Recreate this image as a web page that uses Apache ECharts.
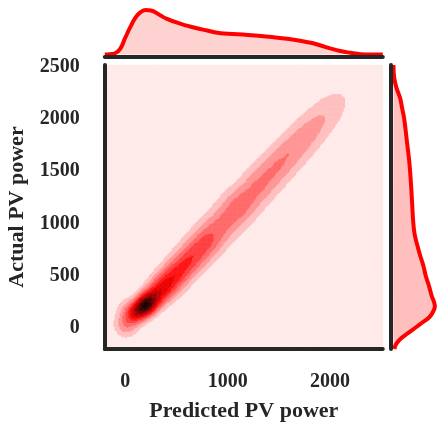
<!DOCTYPE html>
<html>
<head>
<meta charset="utf-8">
<script src="https://cdn.jsdelivr.net/npm/echarts@6/dist/echarts.min.js"></script>
<style>
html, body { margin: 0; padding: 0; background: #fff; }
#main { width: 438px; height: 427px; }
</style>
</head>
<body>
<div id="main"></div>
<script>
// tick labels
var xTicks = [0, 1000, 2000];
var yTicks = [0, 500, 1000, 1500, 2000, 2500];

// marginal KDE of predicted power (top), relative to its peak
var topPred = [-200, -150, -100, -50, 0, 50, 100, 150, 200, 250, 300, 350, 400, 500, 600, 700, 800, 900, 1000, 1200, 1400, 1600, 1800, 1900, 2000, 2100, 2200, 2300, 2400, 2515];
var topDensity = [0, 0.01, 0.03, 0.13, 0.38, 0.62, 0.83, 0.95, 1.0, 0.99, 0.94, 0.87, 0.81, 0.72, 0.65, 0.59, 0.54, 0.49, 0.47, 0.44, 0.40, 0.35, 0.27, 0.21, 0.14, 0.08, 0.04, 0.01, 0, 0];

// marginal KDE of actual power (right), relative to its peak
var rightActual = [-200, -150, -100, -50, 0, 50, 100, 150, 200, 250, 300, 400, 500, 600, 700, 800, 900, 1000, 1200, 1400, 1600, 1800, 2000, 2100, 2200, 2300, 2400, 2515];
var rightDensity = [0.02, 0.07, 0.18, 0.35, 0.52, 0.69, 0.86, 0.95, 1.0, 0.98, 0.93, 0.86, 0.78, 0.72, 0.64, 0.57, 0.51, 0.48, 0.45, 0.42, 0.38, 0.32, 0.26, 0.21, 0.16, 0.07, 0.015, 0];

// joint density: ridge of the point cloud along the diagonal
var ridgePred   = [0, 30, 100, 200, 300, 400, 500, 600, 700, 800, 900, 1000, 1100, 1200, 1300, 1400, 1500, 1600, 1700, 1800, 1900, 2000, 2100, 2200, 2300];
var ridgeActual = [20, 170, 140, 220, 315, 415, 520, 625, 730, 835, 940, 1045, 1150, 1250, 1355, 1460, 1565, 1670, 1775, 1880, 1985, 2090, 2195, 2300, 2400];
var ridgeWeight = [0.2, 0.12, 0.35, 0.83, 0.45, 0.435, 0.38, 0.345, 0.32, 0.30, 0.24, 0.225, 0.25, 0.22, 0.218, 0.21, 0.205, 0.195, 0.185, 0.168, 0.143, 0.117, 0.077, 0.03, 0.007];
var ridgeSpread = [85, 100, 70, 70, 85, 95, 100, 105, 110, 115, 120, 125, 125, 125, 125, 125, 125, 125, 125, 125, 125, 125, 125, 125, 125];

var lo = -200, hi = 2515;
var alongSd = 55;
var nx = 222, ny = 227;
// filled contour colours, white -> red -> black
var bandColors = ['#ffeaea', '#ffbfbf', '#ff9595', '#ff6a6a', '#ff4040', '#ff1515', '#ea0000', '#bf0000', '#950000', '#6a0000', '#400000', '#150000'];

var xCells = [], yCells = [];
for (var j = 0; j < nx; j++) xCells.push(lo + (j + 0.5) * (hi - lo) / nx);
for (var i = 0; i < ny; i++) yCells.push(lo + (i + 0.5) * (hi - lo) / ny);

var dens = [], dmax = 0;
for (var i = 0; i < ny; i++) {
    for (var j = 0; j < nx; j++) {
        var d = 0;
        for (var k = 0; k < ridgePred.length; k++) {
            var dx = xCells[j] - ridgePred[k], dy = yCells[i] - ridgeActual[k];
            var s = (dx + dy) / 2, t = (dy - dx) / Math.SQRT2;
            d += ridgeWeight[k] * Math.exp(-s * s / (2 * alongSd * alongSd) - t * t / (2 * ridgeSpread[k] * ridgeSpread[k]));
        }
        dens.push([j, i, d]);
        if (d > dmax) dmax = d;
    }
}
var nb = bandColors.length;
var topLevel = dmax * 1.03;
var heat = dens.map(function (c) {
    return [c[0], c[1], Math.min(nb - 1, Math.floor(c[2] / topLevel * nb))];
});

var font = { fontFamily: 'Liberation Serif', fontWeight: 'bold', color: '#262626' };
var spine = { show: true, onZero: false, lineStyle: { color: '#262626', width: 4 } };
var plain = function (v) { return String(v); };
var G = { left: 104.8, top: 65.1, width: 278, height: 283.8 };

var myChart = echarts.init(document.getElementById('main'));
var option = {
    animation: false,
    grid: [
        { left: G.left, top: G.top, width: G.width, height: G.height, outerBoundsMode: 'none' },
        { left: G.left, top: 0, width: G.width, height: 57.2, outerBoundsMode: 'none' },
        { left: 390.8, top: G.top, width: 47.2, height: G.height, outerBoundsMode: 'none' },
        { left: G.left, top: G.top, width: G.width, height: G.height, outerBoundsMode: 'none' }
    ],
    xAxis: [
        {
            gridIndex: 0, type: 'value', min: lo, max: hi, z: 10,
            name: 'Predicted PV power', nameLocation: 'middle', nameGap: 51,
            nameTextStyle: Object.assign({ fontSize: 22 }, font),
            axisLine: spine, axisTick: { show: false }, splitLine: { show: false },
            axisLabel: Object.assign({ fontSize: 20, margin: 23, customValues: xTicks, formatter: plain }, font)
        },
        {
            gridIndex: 1, type: 'value', min: lo, max: hi, z: 10,
            axisLine: spine, axisTick: { show: false }, splitLine: { show: false }, axisLabel: { show: false }
        },
        {
            gridIndex: 2, type: 'value', min: -0.065, max: 1.077, show: false
        },
        {
            gridIndex: 3, type: 'category', data: xCells, show: false
        }
    ],
    yAxis: [
        {
            gridIndex: 0, type: 'value', min: lo, max: hi, z: 10,
            name: 'Actual PV power', nameLocation: 'middle', nameGap: 76,
            nameTextStyle: Object.assign({ fontSize: 22 }, font),
            axisLine: spine, axisTick: { show: false }, splitLine: { show: false },
            axisLabel: Object.assign({ fontSize: 20, margin: 25, customValues: yTicks, formatter: plain }, font)
        },
        {
            gridIndex: 1, type: 'value', min: -0.0583, max: 1.224, show: false
        },
        {
            gridIndex: 2, type: 'value', min: lo, max: hi, z: 10,
            axisLine: spine, axisTick: { show: false }, splitLine: { show: false }, axisLabel: { show: false }
        },
        {
            gridIndex: 3, type: 'category', data: yCells, show: false
        }
    ],
    visualMap: {
        type: 'piecewise', show: false, seriesIndex: 0, dimension: 2,
        pieces: bandColors.map(function (c, k) { return { value: k, color: c }; })
    },
    series: [
        {
            type: 'heatmap', xAxisIndex: 3, yAxisIndex: 3, data: heat,
            progressive: 0, emphasis: { disabled: true }, silent: true
        },
        {
            type: 'line', xAxisIndex: 1, yAxisIndex: 1,
            data: topPred.map(function (p, i) { return [p, topDensity[i]]; }),
            smooth: 0.5, showSymbol: false, silent: true,
            lineStyle: { color: '#ff0000', width: 4 },
            areaStyle: { color: 'rgba(255,0,0,0.25)' }
        },
        {
            type: 'custom', xAxisIndex: 2, yAxisIndex: 2, data: [[0, 0]], clip: false, silent: true,
            renderItem: function (params, api) {
                var pts = rightActual.map(function (a, i) { return api.coord([rightDensity[i], a]); });
                var area = [api.coord([0, rightActual[0]])].concat(pts, [api.coord([0, rightActual[rightActual.length - 1]])]);
                return {
                    type: 'group',
                    children: [
                        { type: 'polygon', shape: { points: area, smooth: 0.4 }, style: { fill: 'rgba(255,0,0,0.25)' } },
                        { type: 'polyline', shape: { points: pts, smooth: 0.4 }, style: { fill: null, stroke: '#ff0000', lineWidth: 4 } }
                    ]
                };
            }
        }
    ]
};
myChart.setOption(option);
</script>
</body>
</html>
